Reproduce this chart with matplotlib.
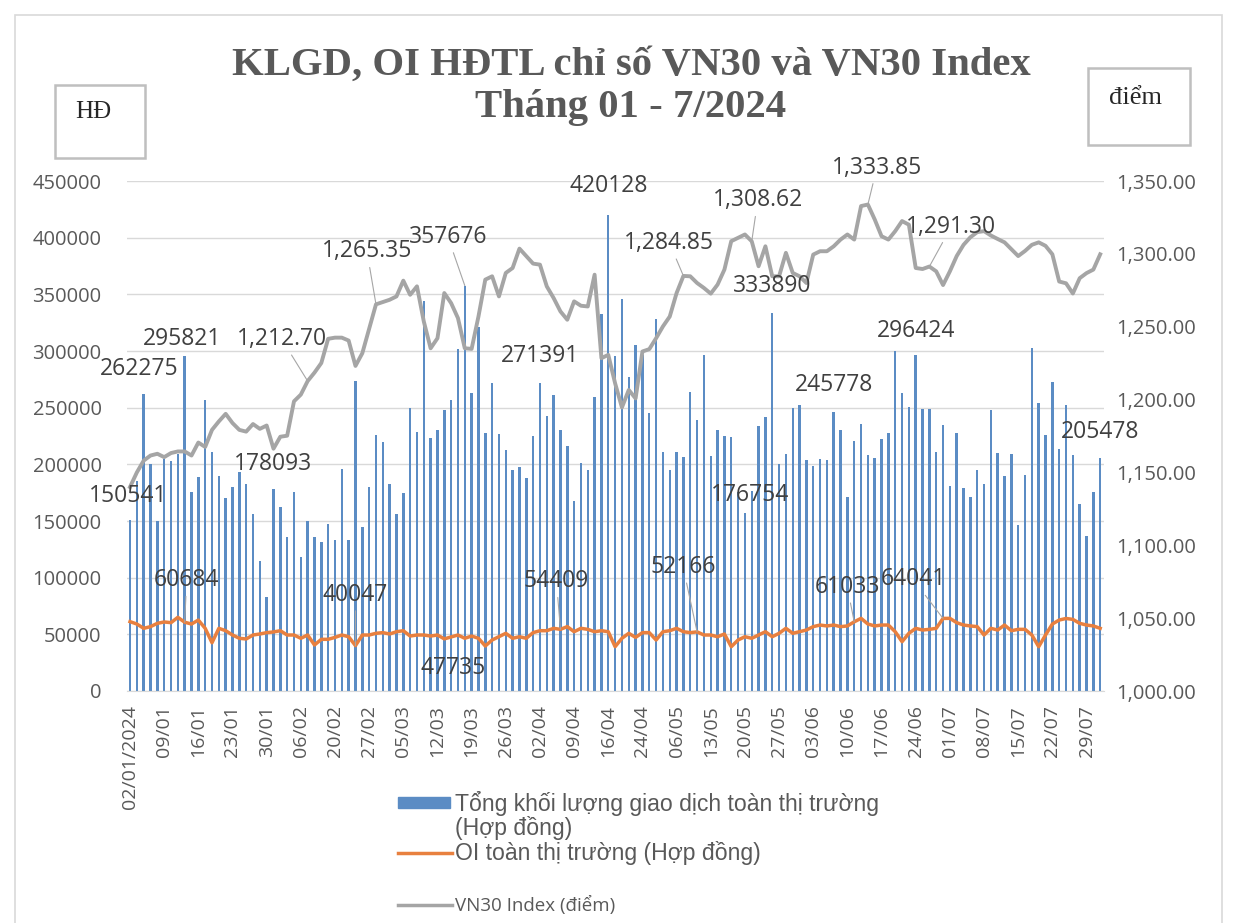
import matplotlib
matplotlib.use("Agg")
from matplotlib import pyplot as plt
from matplotlib import font_manager
from matplotlib.patches import Rectangle
from matplotlib.lines import Line2D
import numpy as np

# ---- data ----
x_labels = ["02/01/2024", "09/01", "16/01", "23/01", "30/01", "06/02", "20/02", "27/02",
            "05/03", "12/03", "19/03", "26/03", "02/04", "09/04", "16/04", "24/04",
            "06/05", "13/05", "20/05", "27/05", "03/06", "10/06", "17/06", "24/06",
            "01/07", "08/07", "15/07", "22/07", "29/07"]

# Tong khoi luong giao dich (hop dong)
volume = [150541, 185000, 262275, 200000, 150000, 205000, 203000, 209000, 295821, 175500,
          188800, 256700, 211000, 189400, 170500, 180000, 193000, 183000, 156000, 115000,
          82600, 178093, 162000, 135700, 175500, 118000, 150400, 135700, 131300, 147500,
          133300, 196200, 133300, 273800, 144600, 180000, 226300, 219800, 183000, 156400,
          174600, 249300, 228600, 343700, 223300, 230700, 247800, 256600, 301500, 357676,
          263100, 321000, 228000, 272000, 227100, 212400, 194700, 197600, 188200, 224800,
          271391, 242800, 261100, 230700, 216500, 167600, 201200, 194700, 259600, 332800,
          420128, 295900, 345700, 277300, 305300, 296500, 245400, 328000, 211000, 194700,
          211000, 206500, 264000, 239500, 296500, 207100, 230700, 225100, 224200, 176000,
          157000, 176754, 233600, 241900, 333890, 200600, 209400, 249300, 252200, 204100,
          198200, 205000, 203500, 245778, 230100, 171100, 220400, 236000, 208000, 205900,
          222700, 227700, 300300, 263100, 250700, 296424, 248400, 248400, 210800, 234500,
          180800, 228000, 179300, 171100, 194700, 182900, 247800, 210000, 189400, 208900,
          146600, 190900, 302400, 253700, 225700, 272300, 213900, 252200, 208600, 165200,
          137200, 175500, 205478]

# OI toan thi truong (hop dong)
oi = [61200, 59100, 55300, 56800, 59700, 60900, 60300, 65000, 60684, 59100,
      62600, 55300, 42600, 55300, 53200, 49400, 46500, 45900, 49400, 50300,
      51500, 52100, 53200, 49400, 49400, 46500, 49400, 40600, 45600, 45600,
      47300, 49400, 47900, 40047, 49400, 49400, 50900, 51500, 50300, 52300,
      53200, 48500, 49400, 49400, 48500, 49400, 46000, 47735, 49400, 46500,
      48500, 46500, 39700, 45000, 47900, 50900, 46500, 47900, 46500, 51500,
      53200, 53200, 55300, 54409, 56800, 52300, 55300, 54400, 52300, 53200,
      52300, 39100, 46500, 50900, 47300, 51500, 51500, 45000, 52300, 53200,
      55300, 52300, 51500, 52166, 49400, 49400, 47900, 50300, 39100, 45000,
      47900, 46500, 49400, 52300, 47900, 50900, 55300, 50900, 52300, 53800,
      56800, 58200, 57400, 58200, 56800, 57400, 61033, 64100, 59100, 57400,
      58200, 58200, 52300, 43500, 50900, 55300, 53800, 54400, 55300, 64041,
      64100, 60300, 58200, 57400, 56800, 49400, 55300, 53800, 58200, 53200,
      54400, 54400, 49400, 39100, 49400, 59100, 62600, 64000, 63200, 59700,
      58200, 57400, 55300]

# VN30 Index (diem)
vn30 = [1140.0, 1150.0, 1158.1, 1161.6, 1162.8, 1160.5, 1163.3, 1164.4, 1164.4, 1161.6,
        1170.5, 1167.5, 1179.2, 1185.0, 1190.2, 1183.9, 1179.2, 1178.0, 1183.2, 1179.9,
        1182.2, 1166.3, 1174.5, 1175.2, 1198.8, 1203.4, 1212.70, 1218.5, 1225.1, 1241.7,
        1242.5, 1242.5, 1240.5, 1223.1, 1231.8, 1248.6, 1265.35, 1266.9, 1268.5, 1270.8,
        1281.6, 1271.9, 1277.7, 1253.6, 1235.2, 1242.1, 1273.1, 1266.2, 1255.9, 1235.2,
        1234.8, 1257.0, 1282.3, 1284.6, 1270.8, 1286.9, 1290.3, 1303.6, 1298.4, 1293.3,
        1292.6, 1277.7, 1269.7, 1260.5, 1254.8, 1267.4, 1264.4, 1263.9, 1285.7, 1228.4,
        1230.7, 1211.2, 1194.6, 1206.6, 1200.8, 1233.0, 1234.6, 1242.1, 1250.2, 1257.0,
        1273.1, 1284.85, 1284.6, 1280.0, 1276.6, 1272.7, 1278.9, 1289.2, 1308.7, 1311.0,
        1313.3, 1308.62, 1291.5, 1305.2, 1284.6, 1284.6, 1300.7, 1286.9, 1284.6, 1280.0,
        1299.5, 1301.8, 1301.8, 1305.2, 1309.8, 1313.3, 1309.8, 1332.8, 1333.85, 1323.6,
        1312.1, 1309.8, 1315.6, 1322.5, 1320.0, 1290.3, 1289.6, 1291.30, 1288.0, 1278.6,
        1288.0, 1298.5, 1306.2, 1311.4, 1314.9, 1315.6, 1312.6, 1310.2, 1307.9, 1303.2,
        1298.5, 1302.0, 1306.2, 1307.9, 1305.5, 1299.7, 1281.0, 1279.8, 1272.8, 1283.3,
        1286.8, 1289.2, 1299.7]

# which points carry a data label: (series, index, dx px, dy px, leader line)
point_labels = [
    ("vol", 0, -2, 24, False), ("vol", 2, -4, 25, False), ("vol", 8, -3, 17, False),
    ("vol", 21, 0, 25, False), ("vn", 26, -26, 42, True), ("oi", 8, 2, 42, True),
    ("oi", 33, 0, 51, True), ("vn", 36, -9, 53, True), ("vol", 49, -17, 49, True),
    ("oi", 47, 2, -31, False), ("vol", 60, 0, 27, False), ("oi", 63, -4, 48, True),
    ("vol", 70, 0, 29, False), ("vn", 81, -14, 33, True), ("oi", 83, -14, 65, True),
    ("vn", 91, 6, 41, True), ("vol", 91, -2, -4, False), ("vol", 94, 0, 27, False),
    ("vol", 103, 0, 27, False), ("oi", 106, -7, 35, True), ("vn", 108, 9, 37, True),
    ("vol", 115, 0, 24, False), ("oi", 119, -30, 39, True), ("vn", 117, 22, 40, True),
    ("vol", 142, 0, 26, False),
]

W, H = 1242, 923


def fx(px):
    return px / W


def fy(py):
    return 1 - py / H


installed = {f.name for f in font_manager.fontManager.ttflist}
narrow = "Liberation Sans Narrow" if "Liberation Sans Narrow" in installed else "Liberation Sans"
serif = ["Liberation Serif", "DejaVu Serif"]

plt.rcParams["font.family"] = ["Open Sans", "DejaVu Sans"]

grey_txt = "#595959"
bar_c = "#5b8cc4"
oi_c = "#e8803f"
vn_c = "#a5a5a5"

fig = plt.figure(figsize=(W / 100, H / 100), dpi=100)
ax1 = fig.add_axes([fx(126.6), fy(691), fx(1103.6) - fx(126.6), fy(181) - fy(691)])
ax2 = ax1.twinx()

x = np.arange(len(volume))
ax1.bar(x, volume, width=0.36, color=bar_c, zorder=2)
ax1.plot(x, oi, color=oi_c, lw=2.5, zorder=3, solid_joinstyle="round")
ax2.plot(x, vn30, color=vn_c, lw=2.8, solid_joinstyle="round")

ax1.set_xlim(-0.5, len(volume) - 0.5)
ax1.set_ylim(0, 450000)
ax1.set_yticks(range(0, 450001, 50000))
ax1.set_yticklabels([str(v) for v in range(0, 450001, 50000)])
ax2.set_ylim(1000, 1350)
right_ticks = np.arange(1000, 1351, 50)
ax2.set_yticks(right_ticks)
ax2.set_yticklabels(["{:,.2f}".format(v) for v in right_ticks])

ax1.set_xticks(range(0, len(volume), 5))
ax1.set_xticklabels(x_labels, rotation=90)

ax1.set_axisbelow(True)
ax1.yaxis.grid(True, color="#d9d9d9", lw=1)
for ax in (ax1, ax2):
    for s in ("top", "left", "right"):
        ax.spines[s].set_visible(False)
ax2.spines["bottom"].set_visible(False)
ax1.spines["bottom"].set_color("#d9d9d9")

ax1.tick_params(axis="y", length=0, pad=18, labelsize=14.5, labelcolor=grey_txt)
ax2.tick_params(axis="y", length=0, pad=9, labelsize=14.5, labelcolor=grey_txt)
ax1.tick_params(axis="x", length=0, pad=10, labelsize=14, labelcolor=grey_txt)

# data labels
for series, i, dx, dy, leader in point_labels:
    if series == "vn":
        val, trans, txt = vn30[i], ax2.transData, "{:,.2f}".format(vn30[i])
    else:
        vals = volume if series == "vol" else oi
        val, trans, txt = vals[i], ax1.transData, str(vals[i])
    arrow = dict(arrowstyle="-", color="#a6a6a6", lw=0.8, shrinkA=1, shrinkB=0) if leader else None
    ax2.annotate(txt, xy=(i, val), xycoords=trans, xytext=(dx, dy), textcoords="offset pixels",
                 ha="center", va="center", fontsize=16.5, color="#404040",
                 arrowprops=arrow, annotation_clip=False)

# title
fig.text(fx(631), fy(65), "KLGD, OI HĐTL chỉ số VN30 và VN30 Index", ha="center", va="center",
         fontsize=29.3, fontweight="bold", color=grey_txt, family=serif)
fig.text(fx(631), fy(108), "Tháng 01 - 7/2024", ha="center", va="center",
         fontsize=29.3, fontweight="bold", color=grey_txt, family=serif)

# unit boxes
fig.add_artist(Rectangle((fx(55), fy(158)), 90 / W, 73 / H, transform=fig.transFigure,
                         fill=False, ec="#bfbfbf", lw=1.8))
fig.text(fx(93), fy(112), "HĐ", ha="center", va="center", fontsize=18, color="#262626", family=serif)
fig.add_artist(Rectangle((fx(1088), fy(145)), 102 / W, 77 / H, transform=fig.transFigure,
                         fill=False, ec="#bfbfbf", lw=1.8))
fig.text(fx(1136), fy(98), "điểm", ha="center", va="center", fontsize=19, color="#262626", family=serif)

# outer chart border
fig.add_artist(Rectangle((fx(15), -0.05), 1207 / W, fy(15) + 0.05, transform=fig.transFigure,
                         fill=False, ec="#d9d9d9", lw=1.2))

# legend
leg_font = [narrow, "DejaVu Sans"]
fig.add_artist(Rectangle((fx(398), fy(808)), 52 / W, 11 / H, transform=fig.transFigure,
                         color=bar_c))
fig.text(fx(455), fy(803), "Tổng khối lượng giao dịch toàn thị trường", ha="left", va="center",
         fontsize=16.6, color=grey_txt, family=leg_font)
fig.text(fx(455), fy(828), "(Hợp đồng)", ha="left", va="center",
         fontsize=16.6, color=grey_txt, family=leg_font)
fig.add_artist(Line2D([fx(398), fx(452)], [fy(853), fy(853)], transform=fig.transFigure,
                      color=oi_c, lw=2.5))
fig.text(fx(455), fy(853), "OI toàn thị trường (Hợp đồng)", ha="left", va="center",
         fontsize=16.6, color=grey_txt, family=leg_font)
fig.add_artist(Line2D([fx(398), fx(452)], [fy(905), fy(905)], transform=fig.transFigure,
                      color=vn_c, lw=2.5))
fig.text(fx(455), fy(905), "VN30 Index (điểm)", ha="left", va="center",
         fontsize=13.5, color=grey_txt)

fig.savefig("out.png", dpi=100)
